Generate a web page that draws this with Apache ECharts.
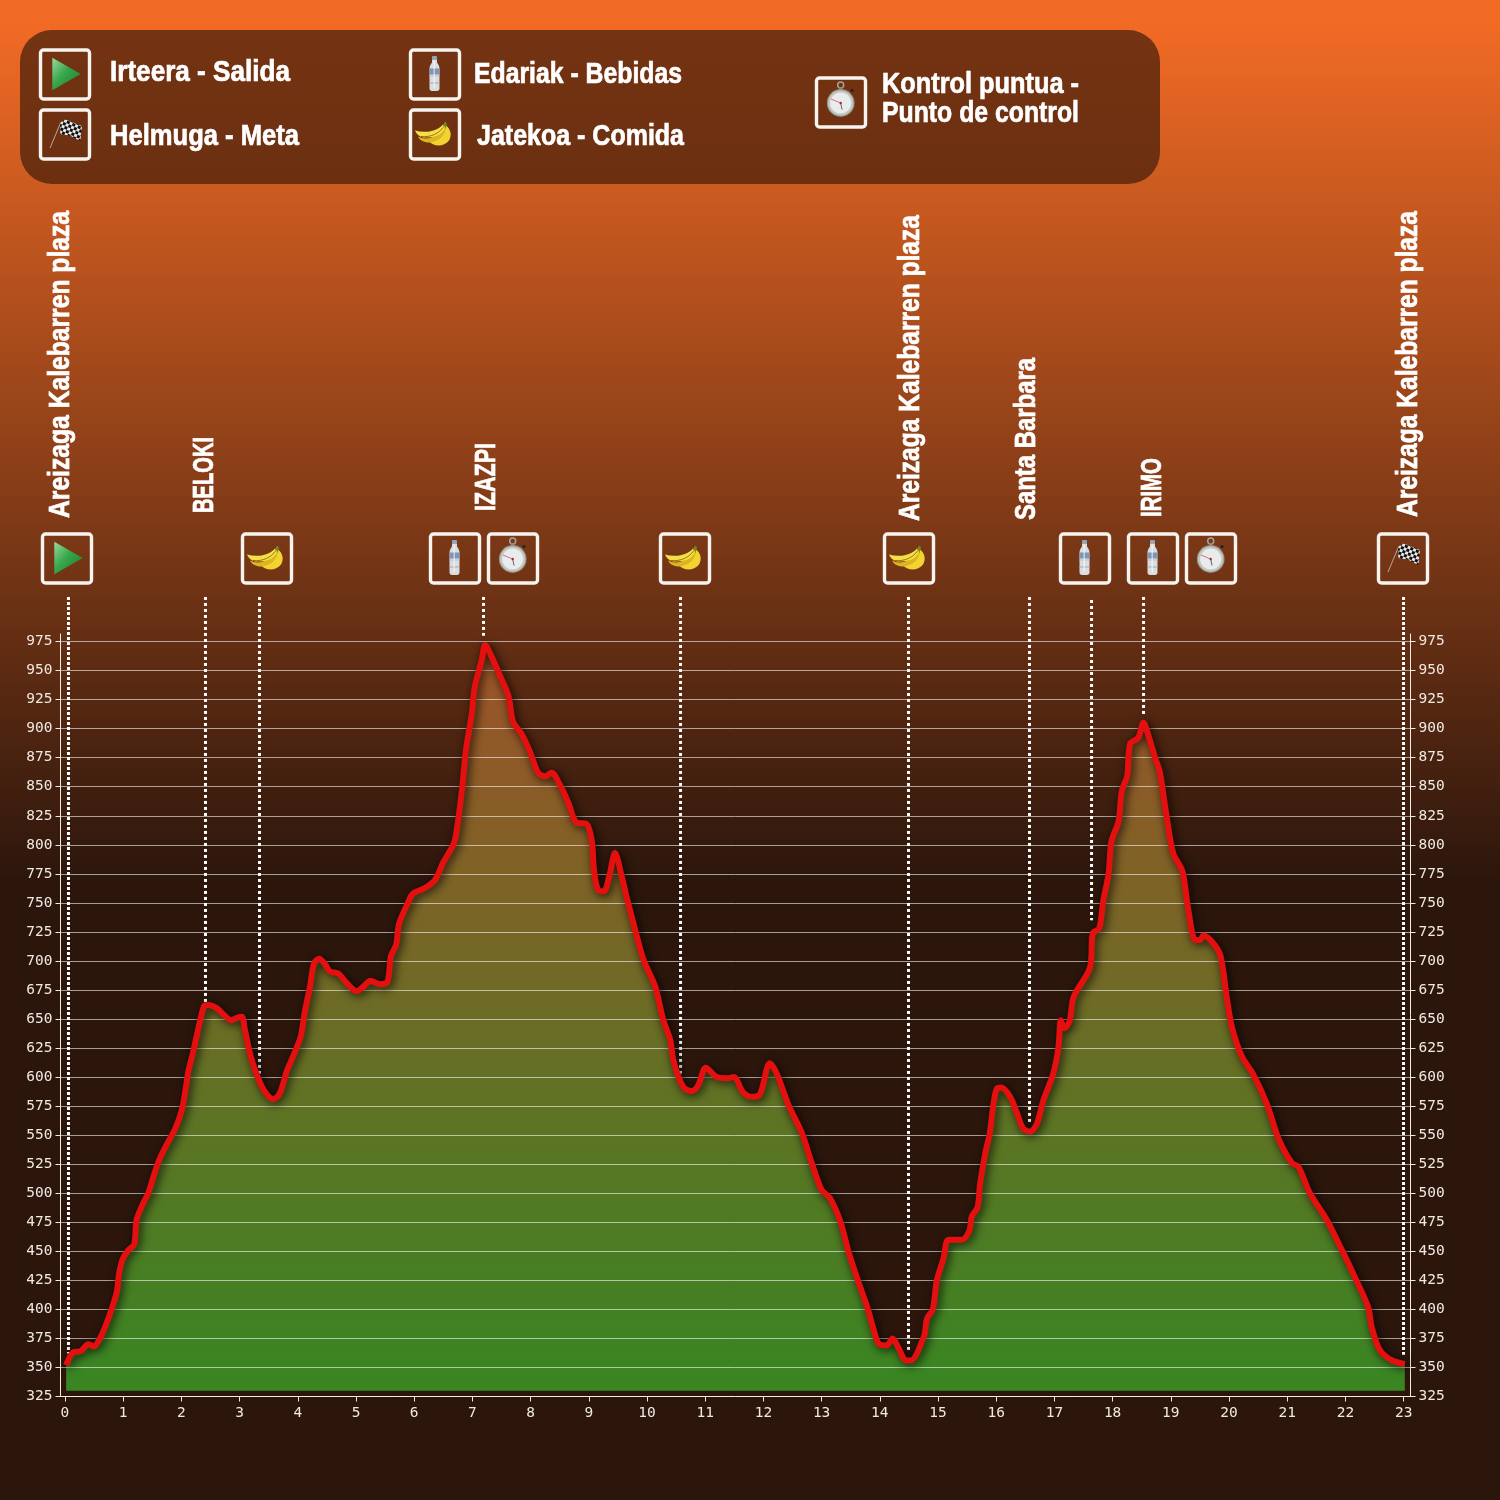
<!DOCTYPE html>
<html><head><meta charset="utf-8">
<style>html,body{margin:0;padding:0;background:#2c160c}#c{width:1500px;height:1500px}</style>
<script src="https://cdn.jsdelivr.net/npm/echarts@6/dist/echarts.min.js"></script>
</head><body><div id="c"></div>
<script>
// Distance along the route (km)
const distanceKm = [0.02,0.14,0.27,0.40,0.50,0.59,0.69,0.80,0.89,0.93,0.99,1.09,1.19,1.23,1.34,1.43,1.55,1.63,1.77,1.89,2.01,2.08,2.12,2.20,2.31,2.39,2.46,2.62,2.72,2.86,2.95,3.04,3.09,3.19,3.32,3.44,3.58,3.69,3.81,3.92,4.05,4.12,4.21,4.28,4.37,4.47,4.55,4.70,4.84,5.01,5.13,5.25,5.41,5.54,5.60,5.69,5.74,5.90,5.98,6.19,6.36,6.50,6.68,6.74,6.82,6.89,6.99,7.04,7.16,7.22,7.33,7.47,7.62,7.70,7.85,7.99,8.13,8.25,8.36,8.51,8.65,8.79,8.96,9.05,9.09,9.16,9.26,9.36,9.45,9.57,9.65,9.79,9.94,10.14,10.28,10.40,10.45,10.55,10.65,10.77,10.88,11.01,11.20,11.37,11.49,11.65,11.80,11.94,12.11,12.23,12.43,12.66,12.83,13.00,13.14,13.32,13.46,13.63,13.79,13.92,13.99,14.12,14.22,14.32,14.45,14.53,14.76,14.81,14.91,14.98,15.09,15.18,15.41,15.54,15.58,15.68,15.72,15.81,15.89,15.95,16.01,16.09,16.24,16.35,16.46,16.58,16.70,16.81,16.98,17.07,17.11,17.17,17.26,17.33,17.61,17.66,17.77,17.84,17.93,17.98,18.10,18.16,18.25,18.30,18.44,18.53,18.61,18.73,18.81,18.92,19.04,19.20,19.30,19.42,19.50,19.56,19.70,19.85,19.96,20.05,20.22,20.42,20.65,20.85,21.08,21.19,21.39,21.68,21.94,22.14,22.39,22.45,22.59,22.80,23.02];
// Elevation (m)
const elevationM = [352,363,364,370,368,374,385,400,415,431,443,451,456,477,491,500,519,530,544,555,572,592,605,621,646,661,662,659,654,649,651,652,641,618,599,587,581,586,605,618,635,656,678,698,702,697,691,689,681,674,678,683,680,682,704,714,732,751,758,763,770,785,801,816,847,882,913,936,959,972,962,946,928,906,895,880,862,859,862,851,836,819,818,804,778,761,760,775,793,772,755,728,701,678,649,632,615,599,590,588,593,608,600,599,600,587,583,585,612,603,576,552,526,503,496,476,450,424,401,378,370,369,375,367,356,356,377,392,400,425,443,460,460,468,480,488,507,534,552,576,590,591,583,570,556,553,560,580,603,626,649,642,648,669,694,724,728,752,775,803,820,847,859,887,892,905,895,875,863,827,793,777,744,718,718,722,717,705,669,643,618,602,577,547,526,523,500,477,451,430,402,385,365,356,353];

const xTicks = [0,1,2,3,4,5,6,7,8,9,10,11,12,13,14,15,16,17,18,19,20,21,22,23];
const yTicks = [325,350,375,400,425,450,475,500,525,550,575,600,625,650,675,700,725,750,775,800,825,850,875,900,925,950,975];

// Dotted guide lines
const guideKm     = [0.06,2.414,3.342,7.191,10.576,14.493,16.572,17.638,18.531,22.998];
const guideTopM   = [1013.4,1013.4,1013.4,1013.4,1013.4,1013.4,1013.4,1010.8,1013.4,1013.4];
const guideEndM   = [362,664,603,980,603,365,560,735,912,361];

// Names written vertically
const placeNames = ['Areizaga Kalebarren plaza','BELOKI','IZAZPI','Areizaga Kalebarren plaza','Santa Barbara','IRIMO','Areizaga Kalebarren plaza'];
const legendTexts = ['Irteera - Salida','Helmuga - Meta','Edariak - Bebidas','Jatekoa - Comida','Kontrol puntua -','Punto de control'];

// ---- layout (pixels) ----
const placeLayout = [[61,518,307],[205,513,76],[487,511,68],[911,521,306],[1027,520,162],[1153,517,59],[1409,517,306]];
const legendLayout = [[110,71,180],[110,135,189],[474,73,208],[477,135,207],[882,83,197],[882,112,197]];
const legendBoxes = [['play',39,48.5],['flag',39,108.5],['bottle',409,48.5],['banana',409,108.5],['watch',815,76.5]];
const routeBoxes = [['play',41,532.5],['banana',241,532.5],['bottle',429,532.5],['watch',487,532.5],['banana',659,532.5],['banana',883,532.5],['bottle',1059,532.5],['bottle',1127,532.5],['watch',1185,532.5],['flag',1377,532.5]];

const ICONS = {
 play:`<defs><linearGradient id="g" x1="0" y1="0" x2="1" y2="1"><stop offset="0" stop-color="#9adca0"/><stop offset=".45" stop-color="#38a64a"/><stop offset="1" stop-color="#1a7a30"/></linearGradient></defs><polygon points="13.3,9.2 41.7,25.5 13.3,41.8" fill="url(#g)"/>`,
 banana:`<path d="M20 33C28 33 36 27 37 17C42 21 43 27 40 32C35 38 26 39 20 33Z" fill="#f2d32f"/><path d="M9 28C18 33 30 28 36 17C38 26 30 34 18 34C13 33 10 31 9 28Z" fill="#dcb61f"/><path d="M6 22C16 25 28 23 34 16L36 17C36 24 28 30 14 29C10 28 7 25 6 22Z" fill="#f6de45"/><path d="M34 17L36 13L38 15L37 19Z" fill="#6d8a22"/><path d="M12 28C22 29 30 25 35 18" stroke="#7a5a10" stroke-width=".8" fill="none"/>`,
 bottle:`<rect x="23" y="7.5" width="5" height="3.5" rx="1" fill="#8ea6bf"/><path d="M23 11H28L28 14C29.5 16 30.5 18 30.5 20V40C30.5 41.5 29.5 42.5 28 42.5H23C21.5 42.5 20.5 41.5 20.5 40V20C20.5 18 21.5 16 23 14Z" fill="#d9dde0"/><rect x="20.5" y="20" width="10" height="6" fill="#7f95b4"/><rect x="20.5" y="27" width="10" height="1" fill="#b5c4d4"/><rect x="20.5" y="34" width="10" height="1" fill="#a8acaf"/><rect x="24.5" y="12" width="1.4" height="28" fill="#ffffff" opacity=".6"/>`,
 watch:`<circle cx="25.7" cy="8.5" r="3" fill="none" stroke="#a8a294" stroke-width="1.5"/><rect x="24" y="10.5" width="3.4" height="3" fill="#8d8a80"/><circle cx="37" cy="14" r="1.5" fill="#222"/><circle cx="25.7" cy="26.5" r="13.9" fill="#8e8e82"/><circle cx="25.7" cy="26.5" r="12.8" fill="#c4c5bf"/><circle cx="25.7" cy="26.5" r="10.6" fill="#e9ebed"/><path d="M25.7 26.5L16 22.5" stroke="#c0586a" stroke-width=".8"/><path d="M25.7 26.5L27 33" stroke="#555" stroke-width=".9"/><circle cx="25.7" cy="26.5" r="1.2" fill="#a03030"/>`,
 flag:`<defs><pattern id="p" width="6" height="6" patternUnits="userSpaceOnUse" patternTransform="rotate(24 21 14)"><rect width="6" height="6" fill="#e8e8e8"/><rect width="3" height="3" fill="#111"/><rect x="3" y="3" width="3" height="3" fill="#111"/></pattern></defs><path d="M11 39.5L21.5 14.5" stroke="#b8a89a" stroke-width="1"/><polygon points="21.3,14.2 26.3,10.8 43,17.5 41.3,32.5 31,27 21.3,25.8" fill="url(#p)"/>`
};
function iconUrl(k){
  return 'data:image/svg+xml;charset=utf-8,'+encodeURIComponent(`<svg xmlns="http://www.w3.org/2000/svg" width="52" height="52" viewBox="0 0 52 52">${ICONS[k]}</svg>`);
}

const FONT_FAMILY = "'Liberation Sans Narrow','Liberation Sans',sans-serif";
const measureCtx = document.createElement('canvas').getContext('2d');
function fitScale(text, size, width){
  measureCtx.font = `bold ${size}px ${FONT_FAMILY}`;
  return width / measureCtx.measureText(text).width;
}

const graphics = [];
graphics.push({type:'rect',z:10,shape:{x:20,y:30,width:1140,height:154,r:32},style:{fill:'rgba(75,34,12,0.75)'}});
function addBox(b){
  graphics.push({type:'rect',z:11,shape:{x:b[1]+1.5,y:b[2]+1.5,width:49,height:49,r:3},style:{fill:'none',stroke:'#f7f3ef',lineWidth:3.4}});
  graphics.push({type:'image',z:11,style:{image:iconUrl(b[0]),x:b[1],y:b[2],width:52,height:52}});
}
legendBoxes.forEach(addBox);
routeBoxes.forEach(addBox);
legendTexts.forEach((t,i)=>{
  const L = legendLayout[i], size = 30;
  graphics.push({type:'text',z:11,x:L[0],y:L[1]+2,scaleX:fitScale(t,size,L[2]),
    style:{text:t,fill:'#ffffff',font:`bold ${size}px ${FONT_FAMILY}`,align:'left',verticalAlign:'middle',stroke:'#ffffff',lineWidth:0.7}});
});
placeNames.forEach((t,i)=>{
  const L = placeLayout[i], size = 29;
  graphics.push({type:'text',z:11,x:L[0],y:L[1],rotation:Math.PI/2,scaleX:fitScale(t,size,L[2]),
    style:{text:t,fill:'#ffffff',font:`bold ${size}px ${FONT_FAMILY}`,align:'left',verticalAlign:'middle',stroke:'#ffffff',lineWidth:0.7}});
});

const profile = distanceKm.map((d,i)=>[d,elevationM[i]]);
const axisWhite = '#f2ece6';
const axisCommon = {
  axisLine:{show:true,onZero:false,lineStyle:{color:axisWhite,width:1}},
  axisTick:{show:true,length:5,inside:false,lineStyle:{color:axisWhite,width:1}},
};
const labelStyle = {color:'#f0e9e2',fontFamily:"'DejaVu Sans Mono',monospace",fontSize:14.5};

const chart = echarts.init(document.getElementById('c'),null,{renderer:'canvas',width:1500,height:1500});
chart.setOption({
  animation:false,
  backgroundColor:new echarts.graphic.LinearGradient(0,0,0,1,[
    {offset:0,color:'#f26b25'},{offset:0.013,color:'#f26b25'},{offset:0.587,color:'#2c160c'},{offset:1,color:'#2c160c'}]),
  grid:{left:60.5,top:634,width:1350,height:762.5,containLabel:false},
  xAxis:{type:'value',min:-0.077,max:23.118,z:2,...axisCommon,
    axisTick:{...axisCommon.axisTick,customValues:xTicks},
    axisLabel:{...labelStyle,margin:9,customValues:xTicks},
    splitLine:{show:false}},
  yAxis:[
    {type:'value',position:'left',min:325,max:981.5,z:2,...axisCommon,
      axisTick:{...axisCommon.axisTick,customValues:yTicks},
      axisLabel:{...labelStyle,margin:8,padding:[4,0,0,0],customValues:yTicks},
      splitLine:{show:true,lineStyle:{color:'rgba(255,255,255,0.58)',width:1}}},
    {type:'value',position:'right',min:325,max:981.5,z:2,...axisCommon,
      axisTick:{...axisCommon.axisTick,customValues:yTicks},
      axisLabel:{...labelStyle,margin:8,padding:[4,0,0,0],customValues:yTicks},
      splitLine:{show:false}}
  ],
  graphic:graphics,
  series:[
    {type:'line',name:'fill',data:profile,symbol:'none',z:1,silent:true,smooth:0.3,
      lineStyle:{width:0,opacity:0},
      areaStyle:{origin:330,opacity:1,color:new echarts.graphic.LinearGradient(0,0,0,1,[
        {offset:0,color:'#9e5228'},{offset:1,color:'#388622'}])}},
    ...guideKm.map((k,i)=>({type:'line',name:'guide'+i,data:[[k,guideTopM[i]],[k,guideEndM[i]]],symbol:'none',z:4,clip:false,silent:true,
      lineStyle:{color:'#ffffff',width:3,type:(i===0||i===guideKm.length-1)?[3,2]:[3,3],cap:'butt'}})),
    {type:'line',name:'profile',data:profile,symbol:'none',z:5,clip:false,smooth:0.3,
      lineStyle:{color:'#e4100f',width:6,join:'round',cap:'butt',shadowColor:'rgba(0,0,0,0.85)',shadowBlur:10,shadowOffsetX:2,shadowOffsetY:2}}
  ]
});
</script></body></html>
